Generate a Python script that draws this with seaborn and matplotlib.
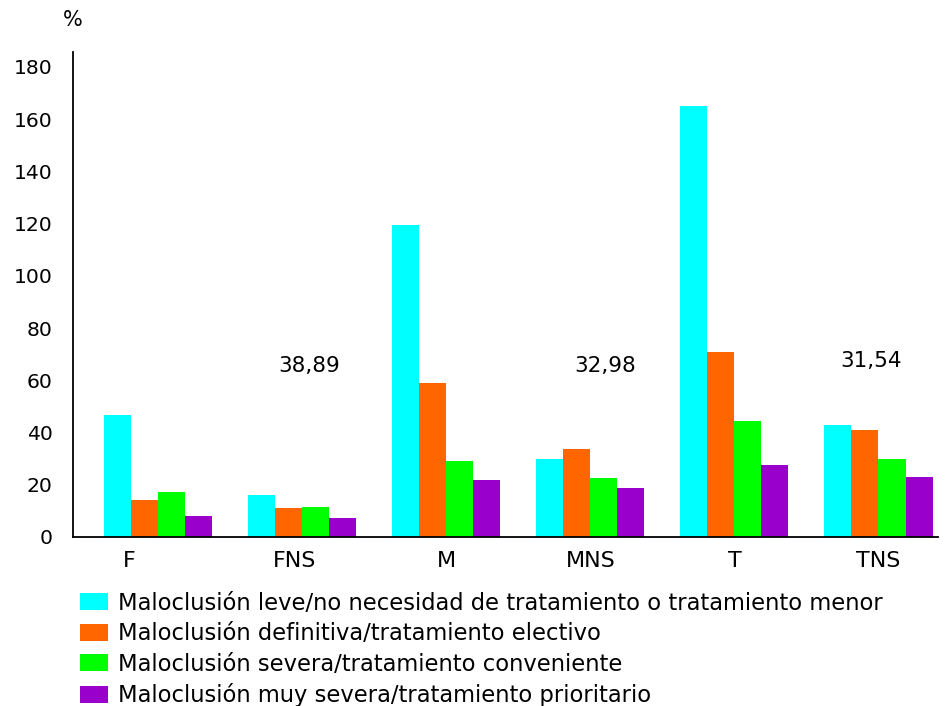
import numpy as np
import pandas as pd
import seaborn as sns
import matplotlib.pyplot as plt

grupos = ['F', 'FNS', 'M', 'MNS', 'T', 'TNS']
leve = [46.6, 16.0, 119.5, 29.8, 165.0, 43.0]
definitiva = [14.0, 11.0, 59.0, 33.5, 70.7, 40.8]
severa = [17.4, 11.6, 29.0, 22.5, 44.5, 29.7]
muy_severa = [8.0, 7.3, 21.7, 18.7, 27.5, 23.0]

series = [
    'Maloclusión leve/no necesidad de tratamiento o tratamiento menor',
    'Maloclusión definitiva/tratamiento electivo',
    'Maloclusión severa/tratamiento conveniente',
    'Maloclusión muy severa/tratamiento prioritario',
]
colores = ['#00FFFF', '#FF6600', '#00FF00', '#9900CC']

notas = ['38,89', '32,98', '31,54']
notas_x = [1.05, 3.1, 4.95]
notas_y = [65.5, 65.5, 67.5]

# where the category names sit (the original is not quite centred on F and FNS)
pos_etiquetas = [-0.2, 0.95, 2, 3, 4, 5]

df = pd.DataFrame({'grupo': grupos * 4,
                   'serie': np.repeat(series, len(grupos)),
                   'valor': leve + definitiva + severa + muy_severa})

sns.set_style('white')
plt.rcParams['font.family'] = ['DejaVu Sans']
plt.rcParams['text.color'] = 'black'
plt.rcParams['xtick.color'] = 'black'
plt.rcParams['ytick.color'] = 'black'

fig = plt.figure(figsize=(9.48, 7.06), dpi=100)
ax = fig.add_axes([0.077, 0.2394, 0.912, 0.687])

sns.barplot(data=df, x='grupo', y='valor', hue='serie', order=grupos, hue_order=series,
            palette=colores, width=0.75, gap=0, saturation=1, errorbar=None,
            linewidth=0, ax=ax)

# category boundaries as major ticks, names as minor ticks
off = 0.09
ax.set_xlim(-0.5 - off, len(grupos) - 0.5 - off)
ax.set_xticks(np.arange(len(grupos) + 1) - 0.5 - off)
ax.set_xticklabels([])
ax.set_xticks(pos_etiquetas, minor=True)
ax.set_xticklabels(grupos, minor=True)
ax.tick_params(axis='x', which='major', direction='out', length=7, width=1.3)
ax.tick_params(axis='x', which='minor', length=0, pad=10, labelsize=16)

ax.set_ylim(0, 185.7)
ax.set_yticks(np.arange(0, 181, 20))
ax.tick_params(axis='y', direction='out', length=5.5, width=1.3, labelsize=14.7, pad=9)

for s in ['top', 'right']:
    ax.spines[s].set_visible(False)
for s in ['left', 'bottom']:
    ax.spines[s].set_color('black')
    ax.spines[s].set_linewidth(1.3)
ax.set_xlabel('')
ax.set_ylabel('')

for t, x, y in zip(notas, notas_x, notas_y):
    ax.text(x, y, t, ha='center', va='center', fontsize=15.5)

fig.text(0.077, 0.972, '%', ha='center', va='center', fontsize=15)

handles, labels = ax.get_legend_handles_labels()
ax.legend(handles, labels, loc='upper left', bbox_to_anchor=(0.0844, 0.162),
          bbox_transform=fig.transFigure, frameon=False, fontsize=16.3,
          handlelength=1.24, handleheight=0.8, handletextpad=0.45, labelspacing=0.33,
          borderaxespad=0, borderpad=0)

fig.savefig('out.png', dpi=100)
